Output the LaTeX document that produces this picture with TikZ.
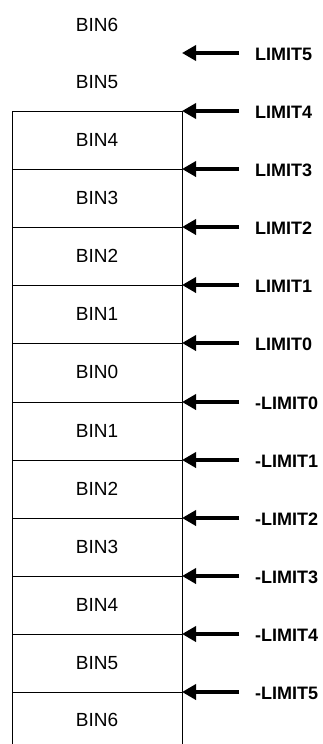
\documentclass[tikz,border=0pt]{standalone}
\usepackage{fontspec}
\setmainfont{Liberation Sans}
\usetikzlibrary{arrows.meta}
\begin{document}
\begin{tikzpicture}[x=1pt,y=-1pt,
  binlabel/.style={font=\fontsize{19}{19}\selectfont, inner sep=0},
  limlabel/.style={font=\bfseries\fontsize{18}{18}\selectfont, anchor=west, inner sep=0},
  divider/.style={line width=1pt},
  ptr/.style={line width=3.5pt, -{Triangle[length=14pt,width=15pt]}}]
\useasboundingbox (0,0) rectangle (322,744);
% bin labels
\foreach \y/\lab [count=\i] in {25/BIN6, 82/BIN5, 140/BIN4, 198/BIN3, 256/BIN2, 314/BIN1, 372/BIN0, 431/BIN1, 489/BIN2, 547/BIN3, 605/BIN4, 663/BIN5, 720/BIN6}
  \node[binlabel] (bin\i) at (97,\y) {\lab};
% limits
\foreach \y/\lab [count=\i] in {53/LIMIT5, 111/LIMIT4, 169/LIMIT3, 227/LIMIT2, 285/LIMIT1, 343/LIMIT0, 402/-LIMIT0, 460/-LIMIT1, 518/-LIMIT2, 576/-LIMIT3, 634/-LIMIT4, 692/-LIMIT5} {
  \coordinate (tail\i) at (239,\y);
  \coordinate (tip\i) at (182,\y);
  \coordinate (left\i) at (12,\y);
  \node[limlabel] (lab\i) at (255,\y+1.5) {\lab};
}
\foreach \i in {2,...,12}
  \draw[divider] (left\i) -- (tip\i);
\coordinate (botL) at (12,744);
\coordinate (botR) at (182,744);
\draw[divider] (left2) -- (botL);
\draw[divider] (tip2) -- (botR);
\foreach \i in {1,...,12}
  \draw[ptr] (tail\i) -- (tip\i);
\end{tikzpicture}
\end{document}
